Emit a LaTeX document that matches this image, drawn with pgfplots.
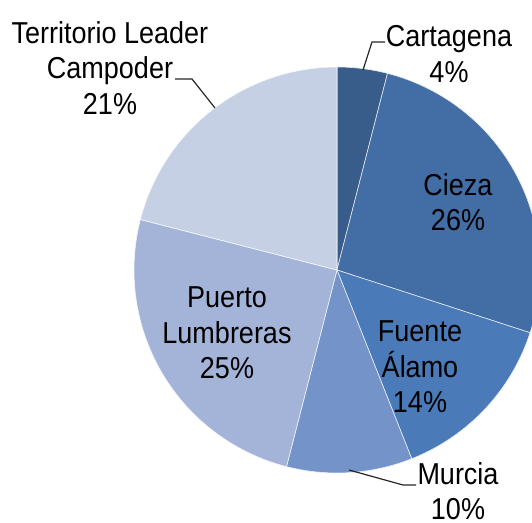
\documentclass[border=0pt]{standalone}
\usepackage{fontspec}
\setmainfont{Liberation Sans}
\usepackage{pgfplots}
\usepackage{pgfplotstable}
\pgfplotsset{compat=1.18}

\definecolor{cCart}{HTML}{385D8A}
\definecolor{cCiez}{HTML}{426DA5}
\definecolor{cFuen}{HTML}{4A7AB8}
\definecolor{cMurc}{HTML}{7494C9}
\definecolor{cPuer}{HTML}{A4B4D8}
\definecolor{cTerr}{HTML}{C6D0E5}

% share of each area, clockwise from 12 o'clock
\pgfplotstableread{
name       value color
Cartagena  4     cCart
Cieza      26    cCiez
Fuente     14    cFuen
Murcia     10    cMurc
Puerto     25    cPuer
Territorio 21    cTerr
}\piedata

\begin{document}
\begin{tikzpicture}
\begin{axis}[
  width=532pt, height=522pt, scale only axis,
  xmin=0, xmax=532, ymin=0, ymax=522,
  axis line style={draw=none}, ticks=none,
  clip=true,
]
\pgfplotstablegetrowsof{\piedata}
\pgfmathtruncatemacro\nrows{\pgfplotsretval-1}
\def\angA{90}
\pgfplotsforeachungrouped \i in {0,...,\nrows}{
  \pgfplotstablegetelem{\i}{value}\of\piedata \let\v\pgfplotsretval
  \pgfplotstablegetelem{\i}{color}\of\piedata \let\c\pgfplotsretval
  \pgfmathsetmacro\angB{\angA-3.6*\v}
  \edef\temp{\noexpand\fill[\c, draw=white!85!\c, line width=0.6pt]
    (axis cs:337,252) -- ++(\angA:203pt)
    arc[start angle=\angA, end angle=\angB, radius=203pt] -- cycle;}
  \temp
  \global\let\angA\angB
}

\begin{scope}[every node/.style={align=center, yscale=1.12, transform shape,
    font=\fontsize{27}{31.7}\selectfont, text=black}]
\node at (axis cs:110,454) {Territorio Leader\\Campoder\\21\%};
\node at (axis cs:449,468) {Cartagena\\4\%};
\node at (axis cs:458,320) {Cieza\\26\%};
\node at (axis cs:420,155) {Fuente\\Álamo\\14\%};
\node at (axis cs:227,189) {Puerto\\Lumbreras\\25\%};
\node at (axis cs:458,31) {Murcia\\10\%};
\end{scope}

\draw[black!85, line width=1.2pt] (axis cs:175,443) -- (axis cs:192,443) -- (axis cs:215,414);
\draw[black!85, line width=1.2pt] (axis cs:385,480) -- (axis cs:372,480) -- (axis cs:363,452);
\draw[black!85, line width=1.2pt] (axis cs:349,52) -- (axis cs:403,37) -- (axis cs:416,37);
\end{axis}
\end{tikzpicture}
\end{document}
